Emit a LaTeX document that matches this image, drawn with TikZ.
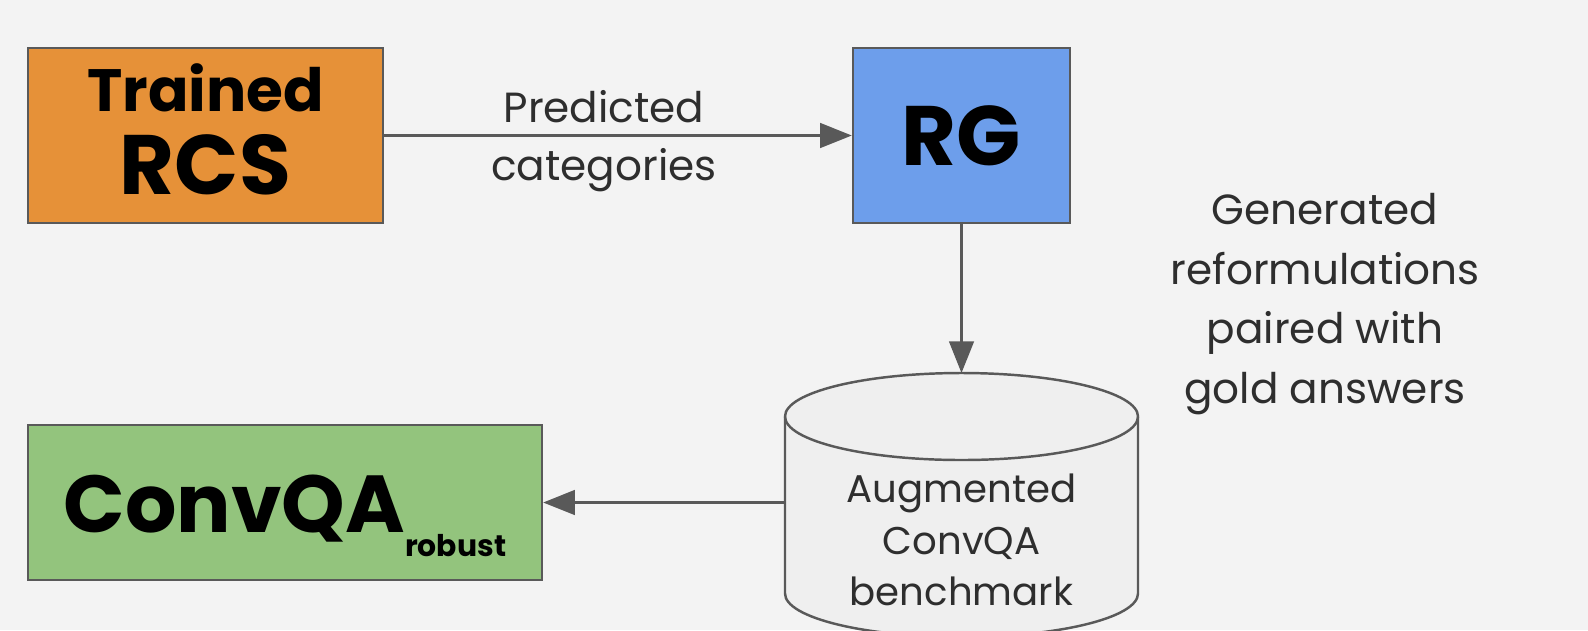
\documentclass[tikz,border=0pt]{standalone}
\usepackage{fontspec}
\setmainfont{Poppins}
\usetikzlibrary{arrows.meta}
\definecolor{fond}{HTML}{F3F3F3}
\definecolor{trait}{HTML}{595959}
\definecolor{orangebox}{HTML}{E69138}
\definecolor{bleubox}{HTML}{6D9EEB}
\definecolor{vertbox}{HTML}{93C47D}
\definecolor{cylfond}{HTML}{EFEFEF}
\definecolor{gristexte}{HTML}{2E2E2E}
\begin{document}
\begin{tikzpicture}[x=0.02cm,y=-0.02cm]
 % les styles
  \tikzstyle{boite}=[rectangle,draw=trait,line width=1.4pt,inner sep=0pt,align=center,text=black]
  \tikzstyle{fleche}=[-{Triangle[length=18pt,width=14pt]},line width=1.5pt,draw=trait,fill=trait]
  \tikzstyle{texte}=[align=center,text=gristexte,inner sep=0pt]
  \tikzstyle{cyl}=[draw=trait,fill=cylfond,line width=1.4pt]
 % le fond
  \fill[fond] (0,0) rectangle (1588,630);
  \useasboundingbox (0,0) rectangle (1588,630);
 % les boites
  \node[boite,fill=orangebox,minimum width=7.1cm,minimum height=3.5cm] (RCS) at (205.5,135.5) {};
  \node[font=\bfseries\fontsize{34}{47}\selectfont,align=center,yshift=3.5pt] (RCStxt) at (RCS)
        {Trained\\{\fontsize{48}{48}\selectfont RCS}};
  \node[boite,fill=bleubox,minimum width=4.34cm,minimum height=3.5cm,
        font=\bfseries\fontsize{48}{48}\selectfont] (RG) at (961.5,135.5) {RG};
  \node[boite,fill=vertbox,minimum width=10.28cm,minimum height=3.1cm] (CQA) at (285,502.5) {};
  \node[font=\bfseries\fontsize{46}{46}\selectfont,yshift=-3.5pt] (CQAtxt) at (CQA)
        {ConvQA{\fontsize{17}{17}\selectfont\raisebox{-13.5pt}[0pt][0pt]{robust}}};
 % le cylindre
  \filldraw[cyl] (785,416.5) -- (785,593.5) arc[start angle=180,end angle=0,x radius=176.5,y radius=43.5]
        -- (1138,416.5) arc[start angle=0,end angle=-180,x radius=176.5,y radius=43.5] -- cycle;
  \draw[cyl,fill=none] (785,416.5) arc[start angle=180,end angle=0,x radius=176.5,y radius=43.5];
  \coordinate (benchtop) at (961.5,373);
  \coordinate (benchwest) at (785,502.5);
  \node[texte,font=\fontsize{22}{29.5}\selectfont] (bench) at (961.5,540)
        {Augmented\\ConvQA\\benchmark};
 % les fleches
  \draw[fleche] (RCS)--(RG) node[texte,pos=0.47,yshift=-3pt,font=\fontsize{24}{33}\selectfont] (pred)
        {Predicted\\categories};
  \draw[fleche] (RG)--(benchtop);
  \draw[fleche] (benchwest)--(CQA);
 % le texte a droite
  \node[texte,font=\fontsize{24}{34}\selectfont] (gen) at (1325,304)
        {Generated\\reformulations\\paired with\\gold answers};
\end{tikzpicture}
\end{document}
